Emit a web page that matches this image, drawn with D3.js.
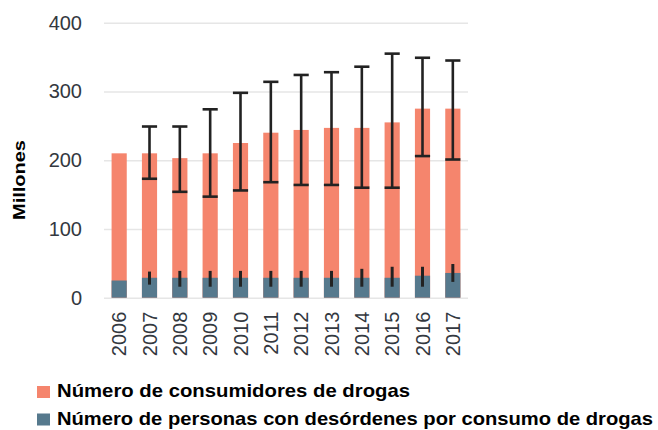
<!DOCTYPE html>
<html>
<head>
<meta charset="utf-8">
<script src="https://cdn.jsdelivr.net/npm/d3@7"></script>
<style>
  html, body { margin: 0; padding: 0; background: #fff; }
  svg { display: block; }
  text { font-family: "Liberation Sans", Arial, sans-serif; }
</style>
</head>
<body>
<svg id="chart" width="658" height="430"></svg>
<script>
// Años del periodo
const years = ["2006","2007","2008","2009","2010","2011","2012","2013","2014","2015","2016","2017"];

// Número de consumidores de drogas (millones) e intervalo estimado
const users     = [210, 210, 203, 210, 225, 240, 244, 247, 247, 255, 275, 275];
const usersLow  = [null, 173, 154, 147, 156, 168, 164, 164, 160, 160, 206, 201];
const usersHigh = [null, 249, 249, 274, 298, 314, 324, 328, 336, 355, 349, 345];

// Personas con desórdenes por consumo de drogas (millones) e intervalo
const disorders     = [25, 29, 29, 29, 29, 29, 29, 29, 29, 29, 32, 36];
const disordersLow  = [null, 19, 16, 16, 16, 16, 16, 16, 16, 16, 16, 23];
const disordersHigh = [null, 38, 39, 39, 39, 39, 39, 39, 42, 45, 45, 49];

const yTicks = [0, 100, 200, 300, 400];
const legendLabels = [
  "Número de consumidores de drogas",
  "Número de personas con desórdenes por consumo de drogas"
];

const colors = { users: "#F5856D", disorders: "#56798D", err: "#222222" };

const svg = d3.select("#chart");
const plotLeft = 104, plotRight = 468, plotTop = 22.7, plotBottom = 297.7;

const x = d3.scaleBand().domain(years).range([plotLeft, plotRight]).paddingInner(0.5).paddingOuter(0.25);
const y = d3.scaleLinear().domain([0, 400]).range([plotBottom, plotTop]);

// Líneas de cuadrícula y etiquetas del eje Y
const yAxis = svg.append("g")
  .attr("transform", `translate(${plotLeft},0)`)
  .call(d3.axisLeft(y).tickValues(yTicks).tickSize(-(plotRight - plotLeft)).tickPadding(22));
yAxis.select(".domain").remove();
yAxis.selectAll(".tick line").attr("stroke", "#e6e6e6").attr("stroke-width", 1.6);
yAxis.selectAll(".tick text")
  .attr("fill", "#333840")
  .style("font-size", "20px");

// Filas de datos por año
const rows = years.map((yr, i) => ({
  yr, users: users[i], uLo: usersLow[i], uHi: usersHigh[i],
  dis: disorders[i], dLo: disordersLow[i], dHi: disordersHigh[i]
}));

// Barras: total de consumidores
svg.append("g").selectAll("rect").data(rows).join("rect")
  .attr("x", d => x(d.yr))
  .attr("width", x.bandwidth())
  .attr("y", d => y(d.users))
  .attr("height", d => y(0) - y(d.users))
  .attr("fill", colors.users);

// Barras: personas con desórdenes
svg.append("g").selectAll("rect").data(rows).join("rect")
  .attr("x", d => x(d.yr))
  .attr("width", x.bandwidth())
  .attr("y", d => y(d.dis))
  .attr("height", d => y(0) - y(d.dis))
  .attr("fill", colors.disorders);

// Barras de error de consumidores (con remates)
const errU = svg.append("g").attr("stroke", colors.err).attr("stroke-width", 2.6);
rows.filter(d => d.uLo != null).forEach(d => {
  const cx = x(d.yr) + x.bandwidth() / 2;
  const hw = x.bandwidth() / 2;
  errU.append("line").attr("x1", cx).attr("x2", cx).attr("y1", y(d.uLo)).attr("y2", y(d.uHi));
  errU.append("line").attr("x1", cx - hw).attr("x2", cx + hw).attr("y1", y(d.uHi)).attr("y2", y(d.uHi));
  errU.append("line").attr("x1", cx - hw).attr("x2", cx + hw).attr("y1", y(d.uLo)).attr("y2", y(d.uLo));
});

// Barras de error de desórdenes (sin remates)
const errD = svg.append("g").attr("stroke", colors.err).attr("stroke-width", 3);
rows.filter(d => d.dLo != null).forEach(d => {
  const cx = x(d.yr) + x.bandwidth() / 2;
  errD.append("line").attr("x1", cx).attr("x2", cx).attr("y1", y(d.dLo)).attr("y2", y(d.dHi));
});

// Eje X con años verticales
const xAxis = svg.append("g")
  .attr("transform", `translate(0,${plotBottom})`)
  .call(d3.axisBottom(x).tickSize(0).tickPadding(0));
xAxis.select(".domain").remove();
xAxis.selectAll(".tick text")
  .attr("fill", "#333840")
  .style("font-size", "20px")
  .attr("text-anchor", "end")
  .attr("transform", "rotate(-90)")
  .attr("x", -14)
  .attr("y", 0)
  .attr("dy", "0.35em");

// Título del eje Y
svg.append("text")
  .attr("transform", "translate(25,180) rotate(-90)")
  .attr("text-anchor", "middle")
  .attr("font-weight", "bold")
  .style("font-size", "17px")
  .attr("fill", "#000")
  .attr("textLength", 80)
  .attr("lengthAdjust", "spacingAndGlyphs")
  .text("Millones");

// Leyenda
const legendWidths = [353, 596];
const legend = svg.append("g");
legendLabels.forEach((lab, i) => {
  const base = 397 + i * 27.5;
  legend.append("rect")
    .attr("x", 37).attr("y", base - 11).attr("width", 13).attr("height", 12)
    .attr("fill", i === 0 ? colors.users : colors.disorders);
  legend.append("text")
    .attr("x", 57).attr("y", base)
    .attr("font-weight", "bold")
    .style("font-size", "18.5px")
    .attr("fill", "#000")
    .attr("textLength", legendWidths[i])
    .attr("lengthAdjust", "spacingAndGlyphs")
    .text(lab);
});
</script>
</body>
</html>
